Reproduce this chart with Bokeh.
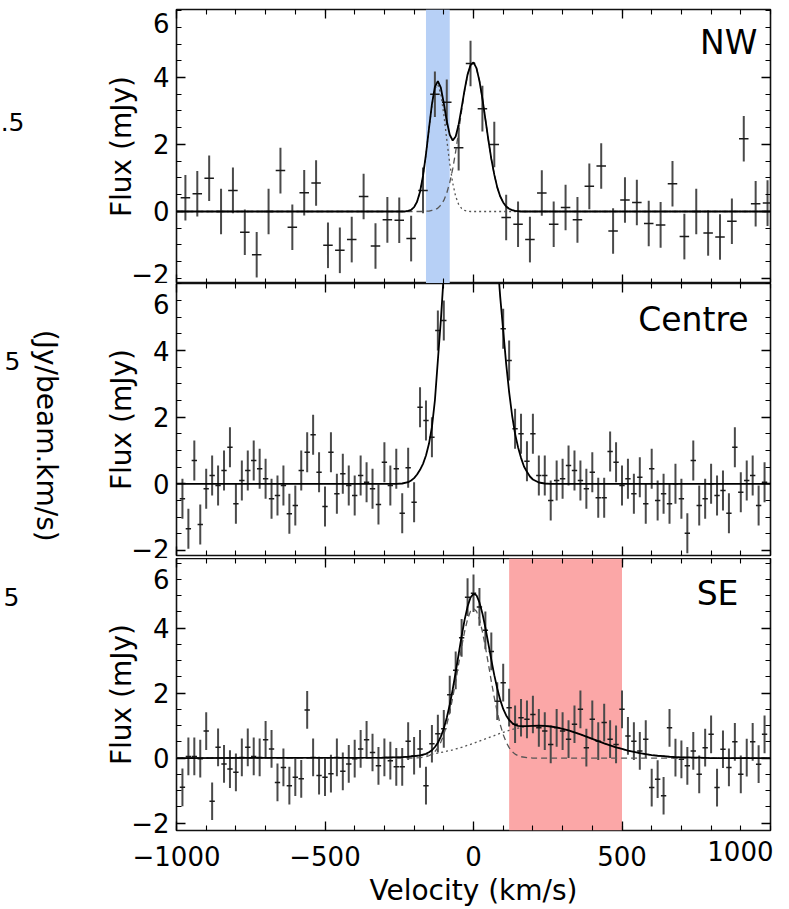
import math
import numpy as np
from bokeh.plotting import figure
from bokeh.layouts import column, row
from bokeh.models import Range1d, FixedTicker, LinearAxis, Label, BoxAnnotation
from bokeh.embed import file_html
from bokeh.resources import INLINE

# ---------------- data ----------------
# NW region (40 km/s channels)
nw_vel = list(range(-970, 991, 40))
nw_flux = [0.41, 0.53, 0.99, 0.00, 0.63, -0.62, -1.29, 0.00, 1.22, -0.47,
           0.56, 0.85, -1.01, -1.16, -0.84, 0.45, -1.03, -0.25, -0.26, -0.81,
           0.63, 3.50, 3.26, 1.90, 4.42, 3.07, 2.00, -0.18, -0.38, -0.84,
           0.55, -0.38, 0.12, -0.25, 0.75, 1.36, -0.58, 0.34, 0.27, -0.36,
           -0.40, 0.83, -0.75, 0.00, -0.64, -0.76, -0.29, 2.17, 0.23, 0.25]
nw_err = 0.68

# Centre region (20 km/s channels); channels off the top of the panel are nan
NaN = float("nan")
centre_vel = list(range(-980, 981, 20))
centre_flux = [-0.45, -1.35, 0.70, -1.22, -0.15, 0.25, -0.05, 0.40, 1.10, -0.60,
               0.10, 0.40, 0.70, 0.45, 0.15, -0.45, -0.35, -0.05, -0.90, -0.65,
               0.40, 0.95, 1.47, 0.35, -0.68, 0.95, -0.30, 0.30, -0.05, -0.35,
               0.25, 0.05, -0.15, -0.62, 0.65, -0.05, 0.45, -0.88, 0.48, -0.55,
               2.30, 1.90, 1.40, 4.60, 4.90,
               NaN, NaN, NaN, NaN, NaN, NaN, NaN, NaN, NaN,
               4.65, 3.70, 1.65, 1.50, 0.68, 1.50, 0.25, 0.25, -0.50, 0.10,
               0.15, 0.55, 0.40, 0.10, -0.15, 0.35, -0.42, -0.42, 0.97, 0.65,
               -0.05, 0.15, -0.30, 0.20, -0.60, 0.45, -0.50, -0.30, -0.60, 0.00,
               -0.45, -1.48, 0.70, -0.65, -0.45, 0.00, -0.35, -0.20, -0.88, 1.10,
               -0.25, 0.10, 0.25, -0.65, 0.05]
centre_err = 0.60

# SE region (20 km/s channels)
se_vel = list(range(-980, 981, 20))
se_flux = [-0.90, 0.05, 0.05, -0.02, 0.83, -1.33, 0.33, -0.18, -0.34, -0.44,
           0.02, 0.33, 0.05, 0.02, 0.56, 0.28, -0.75, -0.29, -0.85, -0.59,
           -0.64, 1.48, 0.02, -0.54, -0.59, -0.48, 0.02, -0.41, -0.18, -0.02,
           0.28, 0.56, 0.17, -0.24, 0.02, -0.08, -0.27, -0.27, 0.52, 0.07,
           0.28, -0.85, 0.44, 0.75, 0.90,
           1.95, 2.70, 3.70, 4.95, 5.07, 4.65, 3.93, 3.28, 1.75, 2.32,
           1.55, 1.04, 1.24, 1.19, 1.34, 0.93, 0.83, 0.42, 0.93, 0.83,
           0.58, 1.04, 1.50, 0.32, 1.19, 0.52, 1.09, 0.58, 0.42, 1.50,
           0.68, 0.52, 0.22, 0.58, -0.91, -0.65, -1.16, 0.93, 0.01, -0.04,
           -0.24, 0.22, -0.50, 0.32, 0.73, -0.91, 0.27, -0.29, 0.50, -0.50,
           0.01, 0.50, -0.19, 0.73]
se_err = 0.58

# fitted model curves
nw_fit_vel = [-1000, -230,
              -220, -210, -200, -190, -180, -170, -160, -150, -140, -130,
              -120, -110, -100, -90, -80, -70, -60, -50, -40, -30,
              -20, -10, 0, 10, 20, 30, 40, 50, 60, 70,
              80, 90, 100, 110, 120, 130, 140, 150, 160,
              1000]
nw_fit_total = [0.0, 0.0,
                0.02, 0.05, 0.13, 0.29, 0.59, 1.06, 1.71, 2.47, 3.20, 3.72,
                3.89, 3.70, 3.23, 2.70, 2.29, 2.12, 2.24, 2.60, 3.10, 3.63,
                4.09, 4.37, 4.45, 4.28, 3.90, 3.37, 2.76, 2.14, 1.57, 1.10,
                0.72, 0.45, 0.27, 0.15, 0.08, 0.04, 0.02, 0.01, 0.0,
                0.0]
nw_fit_blue = [0.0, 0.0,
               0.02, 0.05, 0.13, 0.29, 0.59, 1.06, 1.70, 2.46, 3.17, 3.67,
               3.79, 3.51, 2.90, 2.15, 1.43, 0.85, 0.45, 0.21, 0.09, 0.03,
               0.01, 0.0, 0.0, 0.0, 0.0, 0.0, 0.0, 0.0, 0.0, 0.0,
               0.0, 0.0, 0.0, 0.0, 0.0, 0.0, 0.0, 0.0, 0.0,
               0.0]
nw_fit_main = [0.0, 0.0,
               0.0, 0.0, 0.0, 0.0, 0.0, 0.0, 0.01, 0.01, 0.03, 0.05,
               0.10, 0.19, 0.33, 0.55, 0.86, 1.27, 1.79, 2.39, 3.01, 3.60,
               4.08, 4.37, 4.45, 4.28, 3.90, 3.37, 2.76, 2.14, 1.57, 1.10,
               0.72, 0.45, 0.27, 0.15, 0.08, 0.04, 0.02, 0.01, 0.0,
               0.0]

centre_fit_vel = [-1000, -260, -240, -220, -210, -200, -190, -180, -170, -160,
                  -150, -140, -130, -120, -110, -100, -90, -80, -60, -30,
                  0, 30, 60, 70, 80, 90, 100, 110, 120, 130,
                  140, 150, 160, 170, 180, 190, 200, 220, 240, 260,
                  1000]
centre_fit_total = [0.0, 0.0, 0.01, 0.05, 0.10, 0.17, 0.28, 0.42, 0.60, 0.85,
                    1.20, 1.70, 2.50, 3.70, 4.90, 6.30, 8.20, 10.3, 13.5, 15.2,
                    15.6, 15.0, 12.0, 8.6, 6.8, 5.6, 4.6, 3.6, 2.75, 2.05,
                    1.50, 1.10, 0.78, 0.52, 0.36, 0.22, 0.13, 0.04, 0.01, 0.0,
                    0.0]

se_fit_vel = [-1000, -300, -280, -260, -240, -220, -200, -180,
              -160, -150, -140, -130, -120, -110, -100, -90, -80, -70, -60, -50, -40, -30, -20, -10,
              0, 10, 20, 30, 40, 50, 60, 70, 80, 90, 100, 110, 120, 130, 140, 150, 160,
              180, 200, 220, 240, 260, 280, 300, 320, 340, 360, 380, 400, 420, 440, 460, 480, 500,
              520, 540, 560, 580, 600, 620, 640, 660, 680, 700, 720, 740, 760, 800, 1000]
se_fit_total = [0.0, 0.01, 0.02, 0.02, 0.03, 0.04, 0.06, 0.08,
                0.13, 0.18, 0.24, 0.34, 0.47, 0.66, 0.91, 1.24, 1.64, 2.11, 2.64, 3.20, 3.75, 4.25, 4.66, 4.94,
                5.05, 5.01, 4.79, 4.45, 4.01, 3.52, 3.02, 2.55, 2.14, 1.79, 1.51, 1.31, 1.17, 1.08, 1.02, 0.99, 0.98,
                0.98, 0.99, 1.00, 0.99, 0.97, 0.94, 0.90, 0.85, 0.79, 0.73, 0.66, 0.59, 0.52, 0.45, 0.39, 0.33, 0.28,
                0.23, 0.19, 0.15, 0.12, 0.09, 0.07, 0.06, 0.04, 0.03, 0.02, 0.02, 0.01, 0.01, 0.0, 0.0]
se_fit_narrow = [0.0, 0.0, 0.0, 0.0, 0.0, 0.0, 0.0, 0.01,
                 0.04, 0.07, 0.12, 0.20, 0.32, 0.49, 0.72, 1.03, 1.41, 1.86, 2.36, 2.90, 3.42, 3.89, 4.27, 4.52,
                 4.60, 4.52, 4.27, 3.89, 3.42, 2.90, 2.36, 1.86, 1.41, 1.03, 0.72, 0.49, 0.32, 0.20, 0.12, 0.07, 0.04,
                 0.01, 0.0, 0.0, 0.0, 0.0, 0.0, 0.0, 0.0, 0.0, 0.0, 0.0, 0.0, 0.0, 0.0, 0.0, 0.0, 0.0,
                 0.0, 0.0, 0.0, 0.0, 0.0, 0.0, 0.0, 0.0, 0.0, 0.0, 0.0, 0.0, 0.0, 0.0, 0.0]
se_fit_broad = [0.0, 0.01, 0.02, 0.02, 0.03, 0.04, 0.06, 0.07,
                0.09, 0.11, 0.12, 0.14, 0.15, 0.17, 0.19, 0.21, 0.23, 0.25, 0.28, 0.30, 0.33, 0.36, 0.39, 0.42,
                0.45, 0.49, 0.52, 0.56, 0.59, 0.62, 0.66, 0.69, 0.73, 0.76, 0.79, 0.82, 0.85, 0.88, 0.90, 0.92, 0.94,
                0.97, 0.99, 1.00, 0.99, 0.97, 0.94, 0.90, 0.85, 0.79, 0.73, 0.66, 0.59, 0.52, 0.45, 0.39, 0.33, 0.28,
                0.23, 0.19, 0.15, 0.12, 0.09, 0.07, 0.06, 0.04, 0.03, 0.02, 0.02, 0.01, 0.01, 0.0, 0.0]

# highlighted velocity windows
blue_window = [-160, -80]
red_window = [120, 500]

panel_names = ["NW", "Centre", "SE"]
x_label = "Velocity (km/s)"
y_label = "Flux (mJy)"
side_unit = "(Jy/beam.km/s)"

# ---------------- styling ----------------
FONT = "DejaVu Sans"
MINUS = "\u2212"
FRAME_LEFT = 176
X_TICK_STANDOFF = 15
X_MAJOR = [-1000, -500, 0, 500]
X_MINOR = list(range(-1000, 1001, 100))
Y_MAJOR = [-2, 0, 2, 4]
Y_MINOR = [-2, -1.5, -1, -0.5, 0, 0.5, 1, 1.5, 2, 2.5, 3, 3.5, 4, 4.5, 5, 5.5, 6]


def style_axis(ax, labels):
    ax.major_tick_in = 9
    ax.major_tick_out = 0
    ax.minor_tick_in = 5
    ax.minor_tick_out = 0
    ax.major_tick_line_color = "black"
    ax.minor_tick_line_color = "black"
    ax.major_tick_line_width = 1.3
    ax.minor_tick_line_width = 1.1
    ax.axis_line_color = None
    ax.major_label_text_font = FONT
    if labels:
        ax.major_label_text_color = "black"
        ax.major_label_text_font_size = "26px"
        ax.major_label_standoff = 7
    else:
        ax.major_label_text_color = None
        ax.major_label_text_font_size = "0px"
        ax.major_label_standoff = 0


def make_fig(strip_w, height, top, bottom, ymin, ymax, show_x, y_ticks, label_standoff):
    p = figure(width=789 - strip_w, height=height, output_backend="svg", toolbar_location=None,
               x_range=Range1d(-1000, 1000), y_range=Range1d(ymin, ymax),
               x_axis_location=None, y_axis_location=None,
               min_border_left=FRAME_LEFT - strip_w, min_border_right=19,
               min_border_top=top, min_border_bottom=bottom)
    p.xgrid.visible = False
    p.ygrid.visible = False
    p.outline_line_color = "#111111"
    p.outline_line_width = 1.6
    p.background_fill_color = "white"
    p.border_fill_color = "white"

    ly = LinearAxis(ticker=FixedTicker(ticks=y_ticks, minor_ticks=Y_MINOR))
    style_axis(ly, True)
    ly.major_label_overrides = {-2: MINUS + "2"}
    ly.axis_label = y_label
    ly.axis_label_text_font = FONT
    ly.axis_label_text_font_size = "28px"
    ly.axis_label_text_font_style = "normal"
    ly.axis_label_text_color = "black"
    ly.axis_label_standoff = label_standoff
    p.add_layout(ly, "left")

    ry = LinearAxis(ticker=FixedTicker(ticks=Y_MAJOR, minor_ticks=Y_MINOR))
    style_axis(ry, False)
    p.add_layout(ry, "right")

    tx = LinearAxis(ticker=FixedTicker(ticks=X_MAJOR, minor_ticks=X_MINOR))
    style_axis(tx, False)
    p.add_layout(tx, "above")

    bx = LinearAxis(ticker=FixedTicker(ticks=X_MAJOR, minor_ticks=X_MINOR))
    style_axis(bx, show_x)
    if show_x:
        bx.major_label_overrides = {-1000: MINUS + "1000", -500: MINUS + "500"}
        bx.major_label_standoff = X_TICK_STANDOFF
        bx.axis_label = x_label
        bx.axis_label_text_font = FONT
        bx.axis_label_text_font_size = "28px"
        bx.axis_label_text_font_style = "normal"
        bx.axis_label_text_color = "black"
        bx.axis_label_standoff = 5
    p.add_layout(bx, "below")
    return p


def make_strip(width, height):
    # narrow blank strip at the far left (pixel coordinates, y downward)
    s = figure(width=width, height=height, output_backend="svg", toolbar_location=None,
               x_range=Range1d(0, width), y_range=Range1d(height, 0),
               x_axis_location=None, y_axis_location=None,
               min_border_left=0, min_border_right=0, min_border_top=0, min_border_bottom=0)
    s.xgrid.visible = False
    s.ygrid.visible = False
    s.outline_line_color = None
    s.background_fill_color = "white"
    s.border_fill_color = "white"
    return s


def draw_points(p, vel, flux, err, half):
    v = np.array(vel, dtype=float)
    f = np.array(flux, dtype=float)
    m = ~np.isnan(f)
    v, f = v[m], f[m]
    p.segment(x0=v, y0=f - err, x1=v, y1=f + err, line_color="#4a4a4a", line_width=2)
    p.segment(x0=v - half, y0=f, x1=v + half, y1=f, line_color="#1a1a1a", line_width=1.5)


def side_text(p, text, x, y, size, xoff, align="right"):
    # text outside the frame: kept in the left side panel so it is not clipped
    p.add_layout(Label(x=x, y=y, text=text, x_offset=xoff,
                       text_font=FONT, text_font_size=size, text_color="black",
                       text_align=align, text_baseline="middle"), "left")


def strip_text(s, text, x, y, size, align="right", angle=0.0):
    s.add_layout(Label(x=x, y=y, text=text, angle=angle,
                       text_font=FONT, text_font_size=size, text_color="black",
                       text_align=align, text_baseline="middle"))


def name_text(p, text, x, y):
    p.add_layout(Label(x=x, y=y, text=text, text_font=FONT, text_font_size="33px",
                       text_color="black", text_align="right", text_baseline="middle"))


# ---------------- panel 1 : NW ----------------
W1 = 26
s1 = make_strip(W1, 283)
strip_text(s1, ".5", 24, 116, "25px")
p1 = make_fig(W1, 283, 9, 0, -2.15, 6.03, False, [0, 2, 4], 12)
p1.add_layout(BoxAnnotation(left=blue_window[0], right=blue_window[1],
                            fill_color="#b7d0f6", fill_alpha=1.0, line_color=None, level="underlay"))
draw_points(p1, nw_vel, nw_flux, nw_err, 16)
p1.line(nw_fit_vel, nw_fit_main, line_color="#555555", line_width=1.3, line_dash="6 4")
p1.line(nw_fit_vel, nw_fit_blue, line_color="#555555", line_width=1.3, line_dash="2 3")
p1.line(nw_fit_vel, nw_fit_total, line_color="black", line_width=1.8)
name_text(p1, panel_names[0], 956, 5.04)
side_text(p1, "6", -1000, 5.64, "26px", -7)
side_text(p1, MINUS + "2", -1000, -1.866, "26px", -7)

# ---------------- panel 2 : Centre ----------------
W2 = 63
s2 = make_strip(W2, 275)
strip_text(s2, "5", 20, 78, "25px")
strip_text(s2, side_unit, 46, 154, "28px", align="center", angle=-math.pi / 2)
p2 = make_fig(W2, 275, 0, 3, -2.15, 6.01, False, [-2, 0, 2, 4], -10)
draw_points(p2, centre_vel, centre_flux, centre_err, 9)
p2.line(centre_fit_vel, centre_fit_total, line_color="black", line_width=1.8)
name_text(p2, panel_names[1], 926, 4.93)
side_text(p2, "6", -1000, 5.40, "26px", -7)

# ---------------- panel 3 : SE ----------------
W3 = 19
s3 = make_strip(W3, 351)
strip_text(s3, "5", 19, 50, "25px")
p3 = make_fig(W3, 351, 0, 79, -2.23, 6.14, True, [-2, 0, 2, 4], -10)
p3.add_layout(BoxAnnotation(left=red_window[0], right=red_window[1],
                            fill_color="#fba7a7", fill_alpha=1.0, line_color=None, level="underlay"))
draw_points(p3, se_vel, se_flux, se_err, 9)
p3.line(se_fit_vel, se_fit_narrow, line_color="#555555", line_width=1.3, line_dash="6 4")
p3.line(se_fit_vel, se_fit_broad, line_color="#555555", line_width=1.3, line_dash="2 3")
p3.line(se_fit_vel, se_fit_total, line_color="black", line_width=1.8)
name_text(p3, panel_names[2], 892, 5.06)
side_text(p3, "6", -1000, 5.52, "26px", -7)
side_text(p3, "1000", 1000, -2.23 - 21 / 32.5, "26px", 3)

layout = column(row(s1, p1, spacing=0), row(s2, p2, spacing=0), row(s3, p3, spacing=0), spacing=0)
open("out.html", "w").write(file_html(layout, INLINE))
